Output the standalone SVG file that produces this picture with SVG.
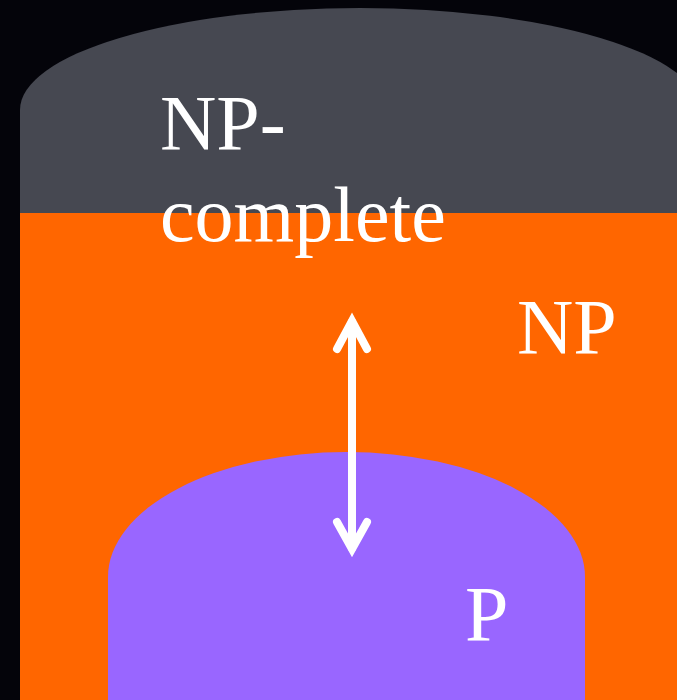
<svg xmlns="http://www.w3.org/2000/svg" width="677" height="700" viewBox="0 0 677 700">
<style>
.lbl{font-family:"Liberation Serif","Times New Roman",serif;font-size:78px;fill:#ffffff}
.arr{stroke:#ffffff;stroke-width:8;fill:none;stroke-linecap:round;stroke-linejoin:miter}
</style>
<rect width="677" height="700" fill="#04040a"/>
<g id="np-complete">
<path d="M20,700 V110 A340,102 0 0 1 700,110 V700 Z" fill="#464851"/>
</g>
<g id="np">
<rect x="20" y="213" width="680" height="487" fill="#ff6600"/>
<text class="lbl" x="517" y="353">NP</text>
</g>
<g id="p">
<path d="M108,700 V577 A238.5,125 0 0 1 585,577 V700 Z" fill="#9966ff"/>
<text class="lbl" x="465" y="640">P</text>
</g>
<g id="np-complete-label">
<text class="lbl" x="160" y="149">NP-</text>
<text class="lbl" x="160" y="241">complete</text>
</g>
<g id="connectors">
<line class="arr" x1="352" y1="322" x2="352" y2="548"/>
<polyline class="arr" points="337,349 352,321 367,349"/>
<polyline class="arr" points="337,522 352,549 367,522"/>
</g>
</svg>
